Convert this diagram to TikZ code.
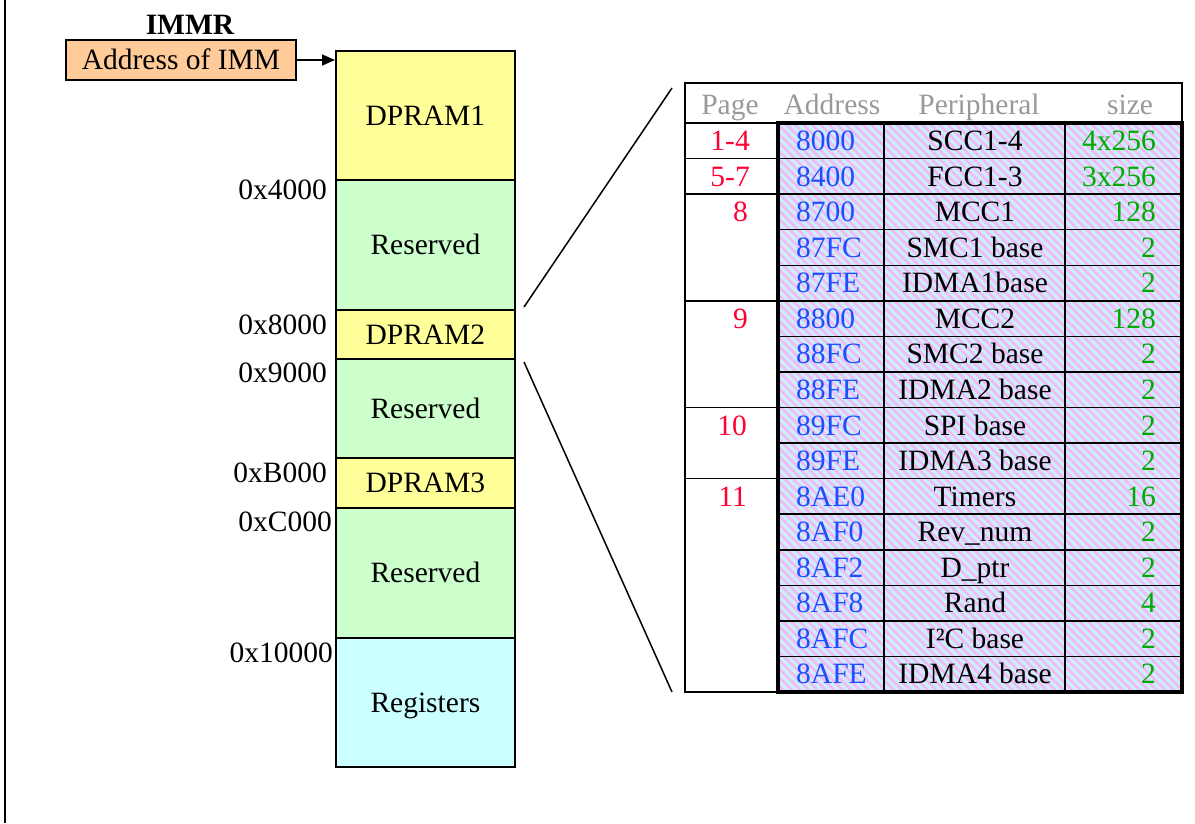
\documentclass[tikz,border=0pt]{standalone}
\usepackage{fontspec}
\setmainfont{Liberation Serif}
\usetikzlibrary{patterns.meta,arrows.meta}
\definecolor{peach}{HTML}{FFCC99}
\definecolor{memyellow}{HTML}{FFFF99}
\definecolor{memgreen}{HTML}{CCFFCC}
\definecolor{memcyan}{HTML}{CCFFFF}
\definecolor{hatchbg}{HTML}{CCEEFF}
\definecolor{hatchfg}{HTML}{F2BAF2}
\definecolor{pagered}{HTML}{FF0033}
\definecolor{addrblue}{HTML}{1A4FFF}
\definecolor{sizegreen}{HTML}{00AA00}
\definecolor{headgray}{HTML}{999999}
\begin{document}
\begin{tikzpicture}[x=1pt,y=-1pt,
  every node/.style={font=\fontsize{29.5}{34}\selectfont, inner sep=0pt, text height=19.5pt, text depth=0pt},
  mem/.style={draw, line width=1.8pt, minimum width=179pt, anchor=north west},
  hexlbl/.style={anchor=east},
  hdr/.style={text=headgray},
  pagelbl/.style={text=pagered, anchor=east},
  addrlbl/.style={text=addrblue, anchor=west},
  perlbl/.style={},
  sizelbl/.style={text=sizegreen, anchor=east},
  thinline/.style={line width=1.5pt},
  zoomline/.style={line width=1.5pt}
]
\useasboundingbox (0,0) rectangle (1195,823);
% left frame line
\draw[line width=1.5pt] (5,0) -- (5,823);

% IMMR
\node[font=\bfseries\fontsize{29.5}{34}\selectfont] (immr) at (190,25) {IMMR};
\node[draw, fill=peach, line width=1.5pt, minimum width=230pt, minimum height=40pt] (addr) at (181,60) {Address of IMM};

% memory column
\node[mem, fill=memyellow, minimum height=129pt] (dp1) at (335,50) {DPRAM1};
\node[mem, fill=memgreen, minimum height=130pt] (res1) at (335,179) {Reserved};
\node[mem, fill=memyellow, minimum height=49pt] (dp2) at (335,309) {DPRAM2};
\node[mem, fill=memgreen, minimum height=99pt] (res2) at (335,358) {Reserved};
\node[mem, fill=memyellow, minimum height=50pt] (dp3) at (335,457) {DPRAM3};
\node[mem, fill=memgreen, minimum height=130pt] (res3) at (335,507) {Reserved};
\node[mem, fill=memcyan, minimum height=129pt] (regs) at (335,637) {Registers};

\draw[line width=1.5pt, -{Triangle[length=13pt,width=11pt]}] (addr.east) -- (dp1.west |- addr.east);

% hex labels
\node[hexlbl] (h4) at (327,190) {0x4000};
\node[hexlbl] (h8) at (327,325) {0x8000};
\node[hexlbl] (h9) at (327,373) {0x9000};
\node[hexlbl] (hb) at (327,473) {0xB000};
\node[hexlbl] (hc) at (332,522) {0xC000};
\node[hexlbl] (h10) at (333,653) {0x10000};

% zoom lines
\coordinate (zt1) at (524,307);
\coordinate (zt2) at (672,88);
\coordinate (zb1) at (524,362);
\coordinate (zb2) at (672,692);
\draw[zoomline] (zt1) -- (zt2);
\draw[zoomline] (zb1) -- (zb2);

% table background
\fill[hatchbg] (778,123) rectangle (1182,692);
\fill[pattern={Lines[angle=-45,distance=6pt,line width=2.6pt]}, pattern color=hatchfg] (778,123) rectangle (1182,692);

% row lines in hatched area
\foreach \i in {1,...,15}{
  \draw[thinline] (778,{123+35.5625*\i}) -- (1182,{123+35.5625*\i});
}
% column lines
\draw[thinline] (884,123) -- (884,692);
\draw[thinline] (1065,123) -- (1065,692);
% page column group lines
\foreach \i in {1,2,5,8,10}{
  \draw[thinline] (685,{123+35.5625*\i}) -- (778,{123+35.5625*\i});
}
% outer table frame
\draw[thinline] (685,83) rectangle (1182,692);
\draw[thinline] (685,123) -- (778,123);
% thick hatched border
\draw[line width=3.5pt] (778,123) rectangle (1182,692);

% header
\node[hdr] (hpage) at (730,105) {Page};
\node[hdr] (haddr) at (832,105) {Address};
\node[hdr] (hper) at (979,105) {Peripheral};
\node[hdr] (hsize) at (1130,105) {size};

% rows
\foreach \a/\p/\s [count=\i] in {8000/SCC1-4/4x256, 8400/FCC1-3/3x256, 8700/MCC1/128, 87FC/SMC1 base/2, 87FE/IDMA1base/2, 8800/MCC2/128, 88FC/SMC2 base/2, 88FE/IDMA2 base/2, 89FC/SPI base/2, 89FE/IDMA3 base/2, 8AE0/Timers/16, 8AF0/Rev\_num/2, 8AF2/D\_ptr/2, 8AF8/Rand/4, 8AFC/I²C base/2, 8AFE/IDMA4 base/2}{
  \pgfmathsetmacro\yc{123+35.5625*(\i-0.5)}
  \node[addrlbl] (a\i) at (796,\yc) {\a};
  \node[perlbl] (p\i) at (975,\yc) {\p};
  \node[sizelbl] (s\i) at (1156,\yc) {\s};
}

% page labels
\node[pagelbl] (pg1) at (750,{123+35.5625*0.5}) {1-4};
\node[pagelbl] (pg2) at (750,{123+35.5625*1.5}) {5-7};
\node[pagelbl] (pg3) at (748,{123+35.5625*2.5}) {8};
\node[pagelbl] (pg4) at (748,{123+35.5625*5.5}) {9};
\node[pagelbl] (pg5) at (747,{123+35.5625*8.5}) {10};
\node[pagelbl] (pg6) at (747,{123+35.5625*10.5}) {11};
\end{tikzpicture}
\end{document}
